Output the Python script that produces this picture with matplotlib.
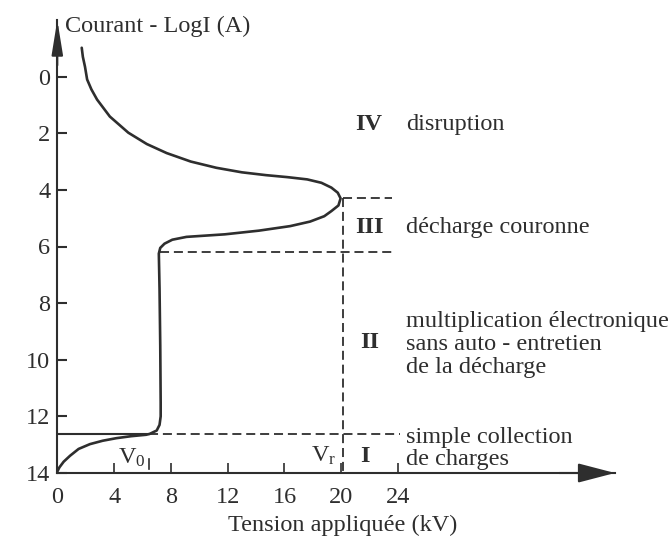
'''
Courbe courant-tension d'une decharge (regimes I a IV)
'''
import numpy as np
import matplotlib as mpl
import matplotlib.pyplot as plt

## DATA
tension = [1.72, 1.8, 1.95, 2.1, 2.4, 2.8, 3.7, 5.0, 6.3, 7.7, 9.4, 11.2, 13.0,
           14.7, 16.2, 17.6, 18.6, 19.3, 19.75, 19.95,
           19.8, 19.3, 18.8, 17.8, 16.4, 14.2, 11.8, 9.1, 8.1, 7.55, 7.25, 7.15,
           7.2, 7.25, 7.28, 7.28, 7.2, 7.0, 6.5,
           6.25, 5.2, 4.16, 3.2, 2.3, 1.5, 0.9, 0.45, 0.15, 0.0]
logi    = [-1.02, -0.7, -0.35, 0.1, 0.45, 0.81, 1.41, 1.98, 2.38, 2.7, 3.0, 3.22, 3.38,
           3.48, 3.55, 3.63, 3.75, 3.92, 4.1, 4.3,
           4.55, 4.75, 4.93, 5.12, 5.28, 5.44, 5.57, 5.66, 5.76, 5.9, 6.05, 6.25,
           7.5, 9.5, 11.5, 12.0, 12.3, 12.5, 12.62,
           12.65, 12.7, 12.77, 12.86, 12.98, 13.15, 13.39, 13.6, 13.8, 13.95]

x_ticks = [0, 4, 8, 12, 16, 20, 24]
y_ticks = [0, 2, 4, 6, 8, 10, 12, 14]

V0 = 6.45      # kV
Vr = 20.1      # kV
y_I   = 12.62  # limite I / II
y_II  = 6.2    # limite II / III
y_III = 4.3    # limite III / IV
x_end = 24.1   # fin des pointilles

regions = ['IV', 'III', 'II', 'I']
region_y = [1.70, 5.34, 9.40, 13.43]
descr = [['disruption'],
         ['décharge couronne'],
         ['multiplication électronique', 'sans auto - entretien', 'de la décharge'],
         ['simple collection', 'de charges']]
descr_y = [[1.70], [5.34], [8.66, 9.47, 10.29], [12.73, 13.54]]

## STYLE
ink = '#2e2e2e'
fontsize = 17.5
mpl.rcParams['font.family'] = 'Liberation Serif'
mpl.rcParams['mathtext.fontset'] = 'custom'
mpl.rcParams['mathtext.rm'] = 'Liberation Serif'
mpl.rcParams['mathtext.it'] = 'Liberation Serif'
mpl.rcParams['lines.scale_dashes'] = False
dash = (6.5, 3.5)

fig = plt.figure(figsize=(6.71, 5.40), dpi=100)
ax = fig.add_axes([57.3/671, 67/540, (615-57.3)/671, 453/540])
ax.set_xlim(0, (615-57.3)/14.2)
ax.set_ylim(14, -2.0)

for s in ['top', 'right']:
    ax.spines[s].set_visible(False)
for s in ['left', 'bottom']:
    ax.spines[s].set_color(ink)
    ax.spines[s].set_linewidth(1.5)

ax.set_xticks(x_ticks)
ax.set_yticks(y_ticks)
ax.tick_params('x', direction='in', length=7.5, width=1.2, color=ink,
               labelsize=fontsize, labelcolor=ink, pad=10)
ax.tick_params('y', direction='in', length=7.5, width=1.5, color=ink,
               labelsize=fontsize, labelcolor=ink, pad=5)

## arrows on the axes
ax.annotate('', xy=(0, 1), xytext=(0, 0.9), xycoords='axes fraction',
            arrowprops=dict(arrowstyle='-|>,head_length=1.05,head_width=0.17',
                            mutation_scale=20, color=ink, lw=1.5,
                            shrinkA=0, shrinkB=0))
ax.annotate('', xy=(1, 0), xytext=(0.9, 0), xycoords='axes fraction',
            arrowprops=dict(arrowstyle='-|>,head_length=1.15,head_width=0.3',
                            mutation_scale=20, color=ink, lw=1.5,
                            shrinkA=0, shrinkB=0))

## the curve
ax.plot(tension, logi, color=ink, lw=1.9, solid_capstyle='round',
        solid_joinstyle='round')

## region boundaries
ax.plot([0, V0], [y_I, y_I], color=ink, lw=1.5)
ax.plot([V0, x_end], [y_I, y_I], color=ink, lw=1.3, dashes=dash)
ax.plot([7.2, 23.6], [y_II, y_II], color=ink, lw=1.3, dashes=dash)
ax.plot([Vr, 23.6], [y_III, y_III], color=ink, lw=1.3, dashes=dash)
ax.plot([Vr, Vr], [y_III, 14], color=ink, lw=1.3, dashes=dash)
ax.plot([V0, V0], [13.5, 13.85], color=ink, lw=1.2)

## labels
ax.text(4.28, 13.45, r'V$_\mathrm{0}$', fontsize=fontsize, color=ink,
        ha='left', va='center')
ax.text(17.9, 13.40, r'V$_\mathrm{r}$', fontsize=fontsize, color=ink,
        ha='left', va='center')

for name, yr, lines, ys in zip(regions, region_y, descr, descr_y):
    xr = 20.98 if name in ('IV', 'III') else 21.3
    ax.text(xr, yr, name, fontsize=fontsize, fontweight='bold', color=ink,
            ha='left', va='center')
    for line, yl in zip(lines, ys):
        ax.text(24.55, yl, line, fontsize=fontsize, color=ink,
                ha='left', va='center', clip_on=False)

ax.text(0.54, -1.77, 'Courant - LogI (A)', fontsize=fontsize, color=ink,
        ha='left', va='center')
ax.text(20.1, 15.85, 'Tension appliquée (kV)', fontsize=fontsize, color=ink,
        ha='center', va='center', clip_on=False)

plt.savefig('out.png', dpi=100)
plt.close(fig)
